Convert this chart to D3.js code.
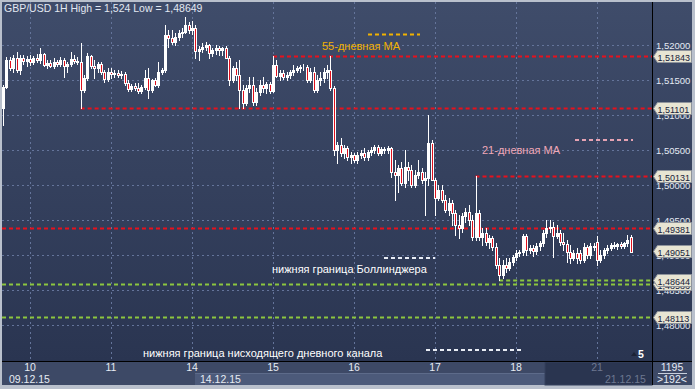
<!DOCTYPE html>
<html>
<head>
<meta charset="utf-8">
<script src="https://cdn.jsdelivr.net/npm/d3@7"></script>
<style>
body{margin:0;background:#b9c0cc;overflow:hidden;}
text{font-family:"Liberation Sans",Arial,sans-serif;}
</style>
</head>
<body>
<div id="chart"></div>
<script>
// hourly candles GBP/USD, [open, high, low, close], one array per trading day
var dec09 = [
  [1.5110,1.5143,1.5086,1.5140],[1.5140,1.5183,1.5139,1.5179],[1.5179,1.5183,1.5164,1.5167],[1.5167,1.5186,1.5161,1.5181],
  [1.5181,1.5190,1.5161,1.5164],[1.5164,1.5186,1.5159,1.5181],[1.5181,1.5186,1.5173,1.5177],[1.5177,1.5184,1.5170,1.5180]
];
var dec10 = [
  [1.5180,1.5186,1.5171,1.5176],[1.5176,1.5184,1.5173,1.5181],[1.5181,1.5187,1.5176,1.5179],[1.5179,1.5196,1.5174,1.5187],
  [1.5187,1.5189,1.5170,1.5171],[1.5171,1.5179,1.5167,1.5174],[1.5174,1.5179,1.5169,1.5170],[1.5170,1.5181,1.5167,1.5176],
  [1.5176,1.5179,1.5170,1.5173],[1.5173,1.5183,1.5170,1.5179],[1.5179,1.5181,1.5154,1.5170],[1.5170,1.5176,1.5161,1.5173],
  [1.5173,1.5190,1.5170,1.5180],[1.5180,1.5186,1.5174,1.5177],[1.5177,1.5183,1.5173,1.5176],[1.5176,1.5203,1.5110,1.5136],
  [1.5136,1.5157,1.5133,1.5153],[1.5153,1.5189,1.5150,1.5184],[1.5184,1.5186,1.5167,1.5170],[1.5170,1.5179,1.5153,1.5167],
  [1.5167,1.5176,1.5161,1.5173],[1.5173,1.5176,1.5159,1.5161],[1.5161,1.5164,1.5147,1.5151],[1.5151,1.5167,1.5149,1.5161]
];
var dec11 = [
  [1.5161,1.5167,1.5153,1.5159],[1.5159,1.5164,1.5154,1.5160],[1.5160,1.5164,1.5154,1.5157],[1.5157,1.5163,1.5153,1.5159],
  [1.5159,1.5161,1.5143,1.5146],[1.5146,1.5150,1.5134,1.5137],[1.5137,1.5144,1.5134,1.5141],[1.5141,1.5146,1.5136,1.5139],
  [1.5139,1.5146,1.5131,1.5134],[1.5134,1.5143,1.5131,1.5140],[1.5140,1.5164,1.5137,1.5153],[1.5153,1.5167,1.5124,1.5136],
  [1.5136,1.5151,1.5133,1.5150],[1.5150,1.5153,1.5141,1.5143],[1.5143,1.5176,1.5140,1.5161],[1.5161,1.5167,1.5159,1.5164],
  [1.5164,1.5229,1.5161,1.5214],[1.5214,1.5221,1.5197,1.5210],[1.5210,1.5221,1.5201,1.5204],[1.5204,1.5217,1.5200,1.5211],
  [1.5211,1.5221,1.5207,1.5217],[1.5217,1.5224,1.5211,1.5219],[1.5219,1.5240,1.5217,1.5229],[1.5229,1.5233,1.5217,1.5221]
];
var dec14 = [
  [1.5221,1.5234,1.5216,1.5224],[1.5224,1.5229,1.5181,1.5191],[1.5191,1.5199,1.5179,1.5194],[1.5194,1.5203,1.5190,1.5197],
  [1.5197,1.5204,1.5193,1.5200],[1.5200,1.5201,1.5181,1.5189],[1.5189,1.5196,1.5184,1.5193],[1.5193,1.5200,1.5187,1.5196],
  [1.5196,1.5199,1.5186,1.5193],[1.5193,1.5197,1.5186,1.5196],[1.5196,1.5199,1.5181,1.5181],[1.5181,1.5184,1.5143,1.5150],
  [1.5150,1.5170,1.5147,1.5167],[1.5167,1.5176,1.5150,1.5157],[1.5157,1.5179,1.5110,1.5136],[1.5136,1.5143,1.5110,1.5117],
  [1.5117,1.5143,1.5114,1.5139],[1.5139,1.5154,1.5133,1.5143],[1.5143,1.5154,1.5114,1.5119],[1.5119,1.5139,1.5114,1.5133],
  [1.5133,1.5150,1.5129,1.5143],[1.5143,1.5154,1.5133,1.5139],[1.5139,1.5147,1.5131,1.5144],[1.5144,1.5147,1.5131,1.5134]
];
var dec15 = [
  [1.5134,1.5184,1.5133,1.5171],[1.5171,1.5179,1.5154,1.5156],[1.5156,1.5164,1.5150,1.5160],[1.5160,1.5164,1.5151,1.5154],
  [1.5154,1.5161,1.5150,1.5157],[1.5157,1.5164,1.5153,1.5161],[1.5161,1.5171,1.5157,1.5164],[1.5164,1.5170,1.5161,1.5167],
  [1.5167,1.5171,1.5161,1.5169],[1.5169,1.5173,1.5164,1.5169],[1.5169,1.5171,1.5147,1.5150],[1.5150,1.5167,1.5147,1.5161],
  [1.5161,1.5169,1.5133,1.5136],[1.5136,1.5157,1.5133,1.5150],[1.5150,1.5161,1.5143,1.5153],[1.5153,1.5167,1.5147,1.5161],
  [1.5161,1.5171,1.5153,1.5164],[1.5164,1.5184,1.5136,1.5139],[1.5139,1.5141,1.5043,1.5050],[1.5050,1.5061,1.5031,1.5057],
  [1.5057,1.5067,1.5041,1.5046],[1.5046,1.5057,1.5039,1.5053],[1.5053,1.5056,1.5036,1.5040],[1.5040,1.5047,1.5031,1.5043]
];
var dec16 = [
  [1.5043,1.5046,1.5033,1.5036],[1.5036,1.5047,1.5031,1.5043],[1.5043,1.5050,1.5039,1.5046],[1.5046,1.5053,1.5036,1.5040],
  [1.5040,1.5050,1.5036,1.5047],[1.5047,1.5054,1.5043,1.5050],[1.5050,1.5057,1.5046,1.5054],[1.5054,1.5057,1.5043,1.5046],
  [1.5046,1.5054,1.5043,1.5051],[1.5051,1.5054,1.5046,1.5050],[1.5050,1.5056,1.5046,1.5053],[1.5053,1.5054,1.5011,1.5019],
  [1.5019,1.5036,1.4979,1.5014],[1.5014,1.5029,1.4990,1.5024],[1.5024,1.5033,1.5000,1.5003],[1.5003,1.5050,1.4997,1.5026],
  [1.5026,1.5033,1.5007,1.5021],[1.5021,1.5029,1.4997,1.5000],[1.5000,1.5021,1.4997,1.5014],[1.5014,1.5036,1.5010,1.5019],
  [1.5019,1.5024,1.5003,1.5007],[1.5007,1.5019,1.4957,1.5010],[1.5010,1.5100,1.5000,1.5060],[1.5060,1.5064,1.5007,1.5007]
];
var dec17 = [
  [1.5007,1.5010,1.4957,1.4981],[1.4981,1.5000,1.4979,1.4993],[1.4993,1.5000,1.4976,1.4979],[1.4979,1.4986,1.4961,1.4964],
  [1.4964,1.4981,1.4957,1.4974],[1.4974,1.4979,1.4943,1.4960],[1.4960,1.4964,1.4929,1.4943],[1.4943,1.4957,1.4924,1.4939],
  [1.4939,1.4960,1.4933,1.4956],[1.4956,1.4967,1.4947,1.4961],[1.4961,1.4971,1.4943,1.4950],[1.4950,1.4957,1.4921,1.4926],
  [1.4926,1.5013,1.4921,1.4960],[1.4960,1.4964,1.4921,1.4926],[1.4926,1.4939,1.4914,1.4931],[1.4931,1.4939,1.4914,1.4919],
  [1.4919,1.4929,1.4910,1.4924],[1.4924,1.4927,1.4907,1.4911],[1.4911,1.4917,1.4881,1.4886],[1.4886,1.4896,1.4865,1.4871],
  [1.4871,1.4893,1.4867,1.4886],[1.4886,1.4896,1.4876,1.4881],[1.4881,1.4896,1.4879,1.4890],[1.4890,1.4900,1.4886,1.4897]
];
var dec18 = [
  [1.4897,1.4907,1.4893,1.4903],[1.4903,1.4907,1.4899,1.4904],[1.4904,1.4930,1.4900,1.4927],[1.4927,1.4930,1.4900,1.4907],
  [1.4907,1.4914,1.4903,1.4910],[1.4910,1.4914,1.4898,1.4906],[1.4906,1.4917,1.4901,1.4913],[1.4913,1.4920,1.4907,1.4917],
  [1.4917,1.4936,1.4913,1.4931],[1.4931,1.4950,1.4926,1.4939],[1.4939,1.4950,1.4933,1.4940],[1.4940,1.4947,1.4897,1.4927],
  [1.4927,1.4943,1.4924,1.4931],[1.4931,1.4936,1.4914,1.4919],[1.4919,1.4931,1.4907,1.4916],[1.4916,1.4921,1.4890,1.4904],
  [1.4904,1.4914,1.4889,1.4896],[1.4896,1.4907,1.4893,1.4903],[1.4903,1.4910,1.4889,1.4896],[1.4903,1.4907,1.4889,1.4893],
  [1.4893,1.4917,1.4890,1.4911],[1.4911,1.4914,1.4896,1.4900],[1.4900,1.4917,1.4896,1.4913],[1.4913,1.4917,1.4907,1.4911]
];
var dec21 = [
  [1.4919,1.4927,1.4886,1.4893],[1.4893,1.4907,1.4890,1.4900],[1.4900,1.4910,1.4896,1.4907],[1.4907,1.4914,1.4903,1.4910],
  [1.4910,1.4917,1.4907,1.4914],[1.4914,1.4919,1.4910,1.4913],[1.4913,1.4917,1.4909,1.4916],[1.4916,1.4919,1.4910,1.4913],
  [1.4913,1.4919,1.4910,1.4917],[1.4917,1.4929,1.4913,1.4921],[1.4926,1.4929,1.4904,1.4905]
];

var dayLabels = ["10", "11", "14", "15", "16", "17", "18", "21"];
var dayStartIdx = [8, 32, 56, 80, 104, 128, 152, 176];
var dateLabels = ["09.12.15", "14.12.15", "21.12.15"];
var dateIdx = [0, 56, 176];
var priceTicks = [1.480, 1.485, 1.490, 1.495, 1.500, 1.505, 1.510, 1.515, 1.520];

// support / resistance levels: price, candle index where the line starts (null = whole width)
var levelPrice = [1.49381, 1.51843, 1.51101, 1.50131, 1.48586, 1.48644, 1.48113];
var levelFrom  = [null, 80, 23, 140, null, 147, null];
var levelKind  = ["res", "res", "res", "res", "chan", "chan", "chan"];
var lastPrice = 1.49051;

var notes = ["55-дневная MA", "21-дневная MA", "нижняя граница Боллинджера", "нижняя граница нисходящего дневного канала"];

var candles = [].concat(dec09, dec10, dec11, dec14, dec15, dec16, dec17, dec18, dec21);

var W = 695, H = 389;
var plotL = 2, plotR = 652, plotT = 2, plotB = 361, axisR = 692, barB = 385;

var svg = d3.select("#chart").append("svg")
    .attr("width", W).attr("height", H)
    .style("display", "block");

var defs = svg.append("defs");
var grad = defs.append("linearGradient").attr("id", "bg").attr("x1", 0).attr("y1", 0).attr("x2", 0).attr("y2", 1);
grad.append("stop").attr("offset", "0%").attr("stop-color", "#3f4c6a");
grad.append("stop").attr("offset", "100%").attr("stop-color", "#2a3551");
defs.append("clipPath").attr("id", "plotClip")
  .append("rect").attr("x", plotL).attr("y", plotT).attr("width", plotR - plotL).attr("height", plotB - plotT);

// frame + panels
svg.append("rect").attr("x", 0).attr("y", 0).attr("width", W).attr("height", H).attr("fill", "#b9c0cc");
svg.append("rect").attr("x", plotL).attr("y", plotT).attr("width", axisR - plotL).attr("height", plotB - plotT)
    .attr("fill", "url(#bg)");
svg.append("rect").attr("x", plotL).attr("y", plotB).attr("width", axisR - plotL).attr("height", barB - plotB)
    .attr("fill", "#3d4966");

var x = d3.scaleLinear().domain([0, 192]).range([3, 3 + 192 * 3.375]);
var y = d3.scaleLinear().domain([1.48, 1.52]).range([325, 45]);

var plot = svg.append("g").attr("clip-path", "url(#plotClip)");

// grid
plot.append("g").selectAll("line").data(priceTicks).join("line")
    .attr("x1", plotL).attr("x2", plotR)
    .attr("y1", function(d){ return Math.round(y(d)) + 0.5; })
    .attr("y2", function(d){ return Math.round(y(d)) + 0.5; })
    .attr("stroke", "#64749a").attr("stroke-dasharray", "2,3");
plot.append("g").selectAll("line").data(dayStartIdx).join("line")
    .attr("x1", function(d){ return Math.round(x(d)) + 0.5; })
    .attr("x2", function(d){ return Math.round(x(d)) + 0.5; })
    .attr("y1", plotT).attr("y2", plotB)
    .attr("stroke", "#64749a").attr("stroke-dasharray", "2,3");

// level lines
var levelColor = {res: "#e8111c", chan: "#8cc63f"};
plot.append("g").selectAll("line").data(levelPrice).join("line")
    .attr("x1", function(d, i){ return levelFrom[i] === null ? plotL : x(levelFrom[i]); })
    .attr("x2", plotR)
    .attr("y1", function(d){ return Math.round(y(d)) + 0.5; })
    .attr("y2", function(d){ return Math.round(y(d)) + 0.5; })
    .attr("stroke", function(d, i){ return levelColor[levelKind[i]]; })
    .attr("stroke-width", 2)
    .attr("stroke-dasharray", "4,3");

// candles
var cg = plot.append("g").selectAll("g").data(candles).join("g");
cg.append("line")
    .attr("x1", function(d, i){ return Math.round(x(i)) + 0.5; })
    .attr("x2", function(d, i){ return Math.round(x(i)) + 0.5; })
    .attr("y1", function(d){ return Math.round(y(d[1])); })
    .attr("y2", function(d){ return Math.round(y(d[2])) + 1; })
    .attr("stroke", "#ffffff");
cg.append("rect")
    .attr("x", function(d, i){ return Math.round(x(i)) - 0.5; })
    .attr("y", function(d){ return Math.round(y(Math.max(d[0], d[3]))) + 0.5; })
    .attr("width", 2)
    .attr("height", function(d){ return Math.max(0, Math.round(y(Math.min(d[0], d[3]))) - Math.round(y(Math.max(d[0], d[3])))); })
    .attr("fill", function(d){ return d[3] >= d[0] ? "#ffffff" : "#e0101c"; })
    .attr("stroke", "#ffffff");

// annotation legends
var ann = svg.append("g");
function dashSample(x1, x2, yy, col){
  ann.append("line").attr("x1", x1).attr("x2", x2).attr("y1", yy).attr("y2", yy)
    .attr("stroke", col).attr("stroke-width", 2).attr("stroke-dasharray", "4,3");
}
dashSample(368, 420, 34.5, "#f2b200");
ann.append("text").attr("x", 322).attr("y", 50).attr("fill", "#f2b200").attr("font-size", 11).text(notes[0]);
dashSample(575, 633, 140, "#e6a3b3");
ann.append("text").attr("x", 482).attr("y", 154).attr("fill", "#f0a8b8").attr("font-size", 11).text(notes[1]);
dashSample(384, 435, 258, "#e8ecf4");
ann.append("text").attr("x", 272).attr("y", 273).attr("fill", "#ffffff").attr("font-size", 11).text(notes[2]);
dashSample(426, 524, 350, "#e8ecf4");
ann.append("text").attr("x", 143).attr("y", 357).attr("fill", "#ffffff").attr("font-size", 11).text(notes[3]);

// title
svg.append("text").attr("x", 4).attr("y", 12).attr("fill", "#e2e8f2").attr("font-size", 10.5)
    .text("GBP/USD 1H High = 1,524 Low = 1,48649");

// marker "5"
svg.append("path").attr("d", "M631,356 L634,352 L637,356 Z").attr("fill", "#1c2336");
svg.append("text").attr("x", 638).attr("y", 358).attr("fill", "#ffffff").attr("font-size", 10.5).attr("font-weight", "bold").text("5");

// bottom time bar
svg.append("rect").attr("x", 195).attr("y", 373).attr("width", 350).attr("height", barB - 373).attr("fill", "#4c5a7a");
svg.append("line").attr("x1", 195).attr("x2", 545).attr("y1", 373.5).attr("y2", 373.5).attr("stroke", "#5d6b8a");
svg.append("rect").attr("x", 545).attr("y", plotB + 1).attr("width", plotR - 545).attr("height", barB - plotB - 1)
    .attr("fill", "#2a3550").attr("stroke", "#34405c");

var fmtPrice = function(v){ return d3.format(".5f")(v).replace(".", ","); };

svg.append("g").selectAll("text").data(dayLabels).join("text")
    .attr("x", function(d, i){ return x(dayStartIdx[i]); })
    .attr("y", 371)
    .attr("text-anchor", "middle")
    .attr("font-size", 10.5)
    .attr("fill", function(d, i){ return i === dayLabels.length - 1 ? "#6d7891" : "#e6ebf3"; })
    .text(function(d){ return d; });
svg.append("g").selectAll("text").data(dateLabels).join("text")
    .attr("x", function(d, i){ return x(dateIdx[i]) + (i === 0 ? 6 : 8); })
    .attr("y", 383)
    .attr("font-size", 10.5)
    .attr("fill", function(d, i){ return i === dateLabels.length - 1 ? "#6d7891" : "#e6ebf3"; })
    .text(function(d){ return d; });

// separators
svg.append("line").attr("x1", plotL).attr("x2", axisR).attr("y1", plotB + 0.5).attr("y2", plotB + 0.5).attr("stroke", "#000");
svg.append("line").attr("x1", plotR + 0.5).attr("x2", plotR + 0.5).attr("y1", plotT).attr("y2", barB).attr("stroke", "#000");

// price axis
svg.append("g").selectAll("text").data(priceTicks).join("text")
    .attr("x", 656)
    .attr("y", function(d){ return y(d) + 4; })
    .attr("font-size", 9.5)
    .attr("fill", "#e4eaf4")
    .text(fmtPrice);

var tags = levelPrice.concat([lastPrice]);
var tg = svg.append("g").selectAll("g").data(tags).join("g")
    .attr("transform", function(d){ return "translate(0," + Math.round(y(d)) + ")"; });
tg.append("path")
    .attr("d", "M653.5,0.5 L657.5,-5.5 L691.5,-5.5 L691.5,6.5 L657.5,6.5 Z")
    .attr("fill", "#e8e5d3").attr("stroke", "#8f949c");
tg.append("text").attr("x", 657.5).attr("y", 4.5).attr("font-size", 9).attr("fill", "#17213a")
    .text(fmtPrice);

// bars count box
svg.append("text").attr("x", 672).attr("y", 371).attr("text-anchor", "middle").attr("font-size", 10.5).attr("fill", "#e4eaf4").text("1195");
svg.append("line").attr("x1", 658).attr("x2", 687).attr("y1", 373.5).attr("y2", 373.5).attr("stroke", "#c7cfdc");
svg.append("text").attr("x", 672).attr("y", 383).attr("text-anchor", "middle").attr("font-size", 10.5).attr("fill", "#e4eaf4").text(">192<");
</script>
</body>
</html>
